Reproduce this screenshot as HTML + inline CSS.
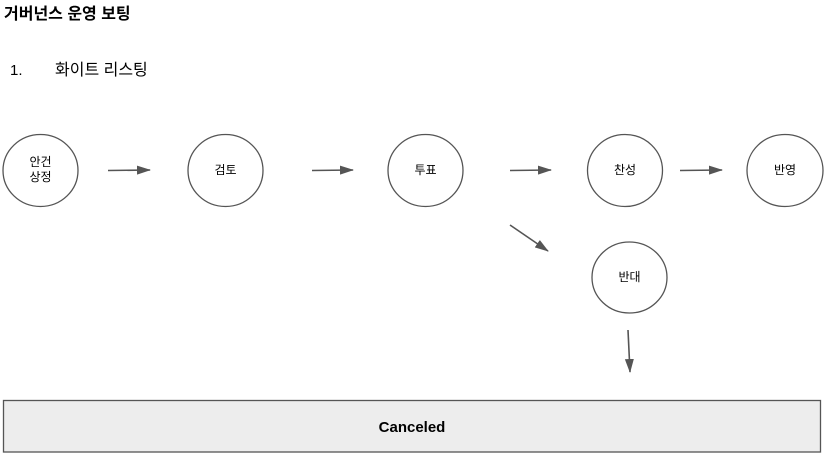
<!DOCTYPE html>
<html><head><meta charset="utf-8"><style>
html,body{margin:0;padding:0;background:#fff;width:825px;height:458px;overflow:hidden}
svg{display:block}
</style></head><body>
<svg width="825" height="458" viewBox="0 0 825 458" xmlns="http://www.w3.org/2000/svg" font-family="'Liberation Sans','Noto Sans CJK KR',sans-serif">
<defs><marker id="a" viewBox="0 0 14 10" refX="13" refY="5" markerWidth="14" markerHeight="10" orient="auto" markerUnits="userSpaceOnUse"><path d="M0,0.5 L14,5 L0,9.5 z" fill="#555"/></marker></defs>
<text x="4" y="19" font-size="16" font-weight="bold" fill="#000">거버넌스 운영 보팅</text>
<text x="10" y="75" font-size="15" fill="#000">1.</text>
<text x="55" y="75" font-size="16" fill="#000">화이트 리스팅</text>
<g fill="#fff" stroke="#555" stroke-width="1.3">
<ellipse cx="40.5" cy="170.5" rx="37.5" ry="36"/>
<ellipse cx="225.5" cy="170.5" rx="37.5" ry="36"/>
<ellipse cx="425.5" cy="170.5" rx="37.5" ry="36"/>
<ellipse cx="625" cy="170.5" rx="37.5" ry="36"/>
<ellipse cx="785" cy="170.5" rx="38" ry="36"/>
<ellipse cx="629.5" cy="277.5" rx="37.5" ry="35.5"/>
</g>
<g font-size="12" fill="#000" text-anchor="middle">
<text x="40.5" y="166">안건</text><text x="40.5" y="181">상정</text>
<text x="225.5" y="174">검토</text>
<text x="425.5" y="174">투표</text>
<text x="625" y="174">찬성</text>
<text x="785" y="174">반영</text>
<text x="629.5" y="281">반대</text>
</g>
<g stroke="#555" stroke-width="1.6" marker-end="url(#a)">
<line x1="108" y1="170.5" x2="150" y2="170"/>
<line x1="312" y1="170.5" x2="353" y2="170"/>
<line x1="510" y1="170.5" x2="551" y2="170"/>
<line x1="680" y1="170.5" x2="722" y2="170"/>
<line x1="510" y1="225" x2="548" y2="251"/>
<line x1="628" y1="330" x2="630" y2="372"/>
</g>
<rect x="3.5" y="400.5" width="817" height="51.5" fill="#ededed" stroke="#555" stroke-width="1.3"/>
<text x="412" y="432" font-size="15" font-weight="bold" text-anchor="middle" fill="#000">Canceled</text>
</svg>
</body></html>
